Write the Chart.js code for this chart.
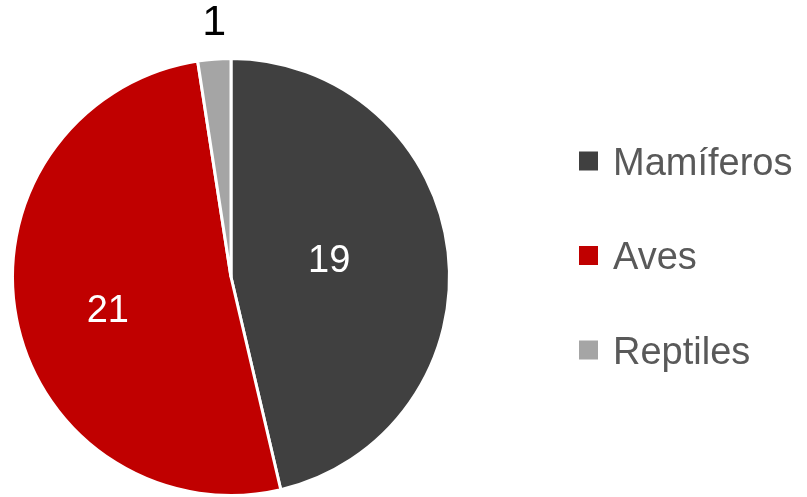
<!DOCTYPE html>
<html lang="es">
<head>
  <meta charset="UTF-8">
  <script src="https://cdn.jsdelivr.net/npm/chart.js"></script>
  <title>Pie</title>
  <style>
    html, body{margin: 0; padding: 0; background: #fff;}
    #wrap{width: 807px; height: 497px;}
  </style>
</head>
<body>
  <div id="wrap">
    <canvas id="myChart" width="807" height="497"></canvas>
  </div>
  <script>
    // datos
    const labels = ["Mamíferos", "Aves", "Reptiles"];
    const values = [19, 21, 1];
    const colors = ["#404040", "#C00000", "#A5A5A5"];
    const labelColors = ["#ffffff", "#ffffff", "#000000"];

    const FONT = "'Liberation Sans', Arial, sans-serif";

    // etiquetas de datos (sin plugin externo)
    const dataLabels = {
      id: "dataLabels",
      afterDatasetsDraw(chart){
        const ctx = chart.ctx;
        const meta = chart.getDatasetMeta(0);
        const frac = [0.455, 0.585, 1.165];
        const turn = [-2.4, -4.5, 0.6]; // grados
        const size = [38, 38, 43];
        ctx.save();
        ctx.textAlign = "center";
        ctx.textBaseline = "middle";
        meta.data.forEach(function(arc, i){
          const p = arc.getProps(["x", "y", "startAngle", "endAngle", "outerRadius"], true);
          const mid = (p.startAngle + p.endAngle) / 2 + turn[i] * Math.PI / 180;
          const r = p.outerRadius * frac[i];
          ctx.fillStyle = labelColors[i];
          ctx.font = size[i] + "px " + FONT;
          ctx.fillText(String(values[i]), p.x + Math.cos(mid) * r, p.y + Math.sin(mid) * r);
        });
        ctx.restore();
      }
    };

    // leyenda a la derecha
    const sideLegend = {
      id: "sideLegend",
      afterDraw(chart){
        const ctx = chart.ctx;
        ctx.save();
        ctx.font = "38px " + FONT;
        ctx.textBaseline = "alphabetic";
        labels.forEach(function(lab, i){
          const cy = 161 + i * 94.5;
          ctx.fillStyle = colors[i];
          ctx.fillRect(579, cy - 9.5, 19, 19);
          ctx.fillStyle = "#595959";
          ctx.fillText(lab, 613, cy + 13.5);
        });
        ctx.restore();
      }
    };

    const ctx = document.getElementById("myChart");
    new Chart(ctx, {
      type: "pie",
      data: {
        labels: labels,
        datasets: [{
          data: values,
          backgroundColor: colors,
          borderColor: "#ffffff",
          borderWidth: 3
        }]
      },
      options: {
        responsive: false,
        animation: false,
        layout: {padding: {left: 11, top: 57, right: 356, bottom: 0}},
        plugins: {
          legend: {display: false},
          tooltip: {enabled: false}
        }
      },
      plugins: [dataLabels, sideLegend]
    });
  </script>
</body>
</html>
